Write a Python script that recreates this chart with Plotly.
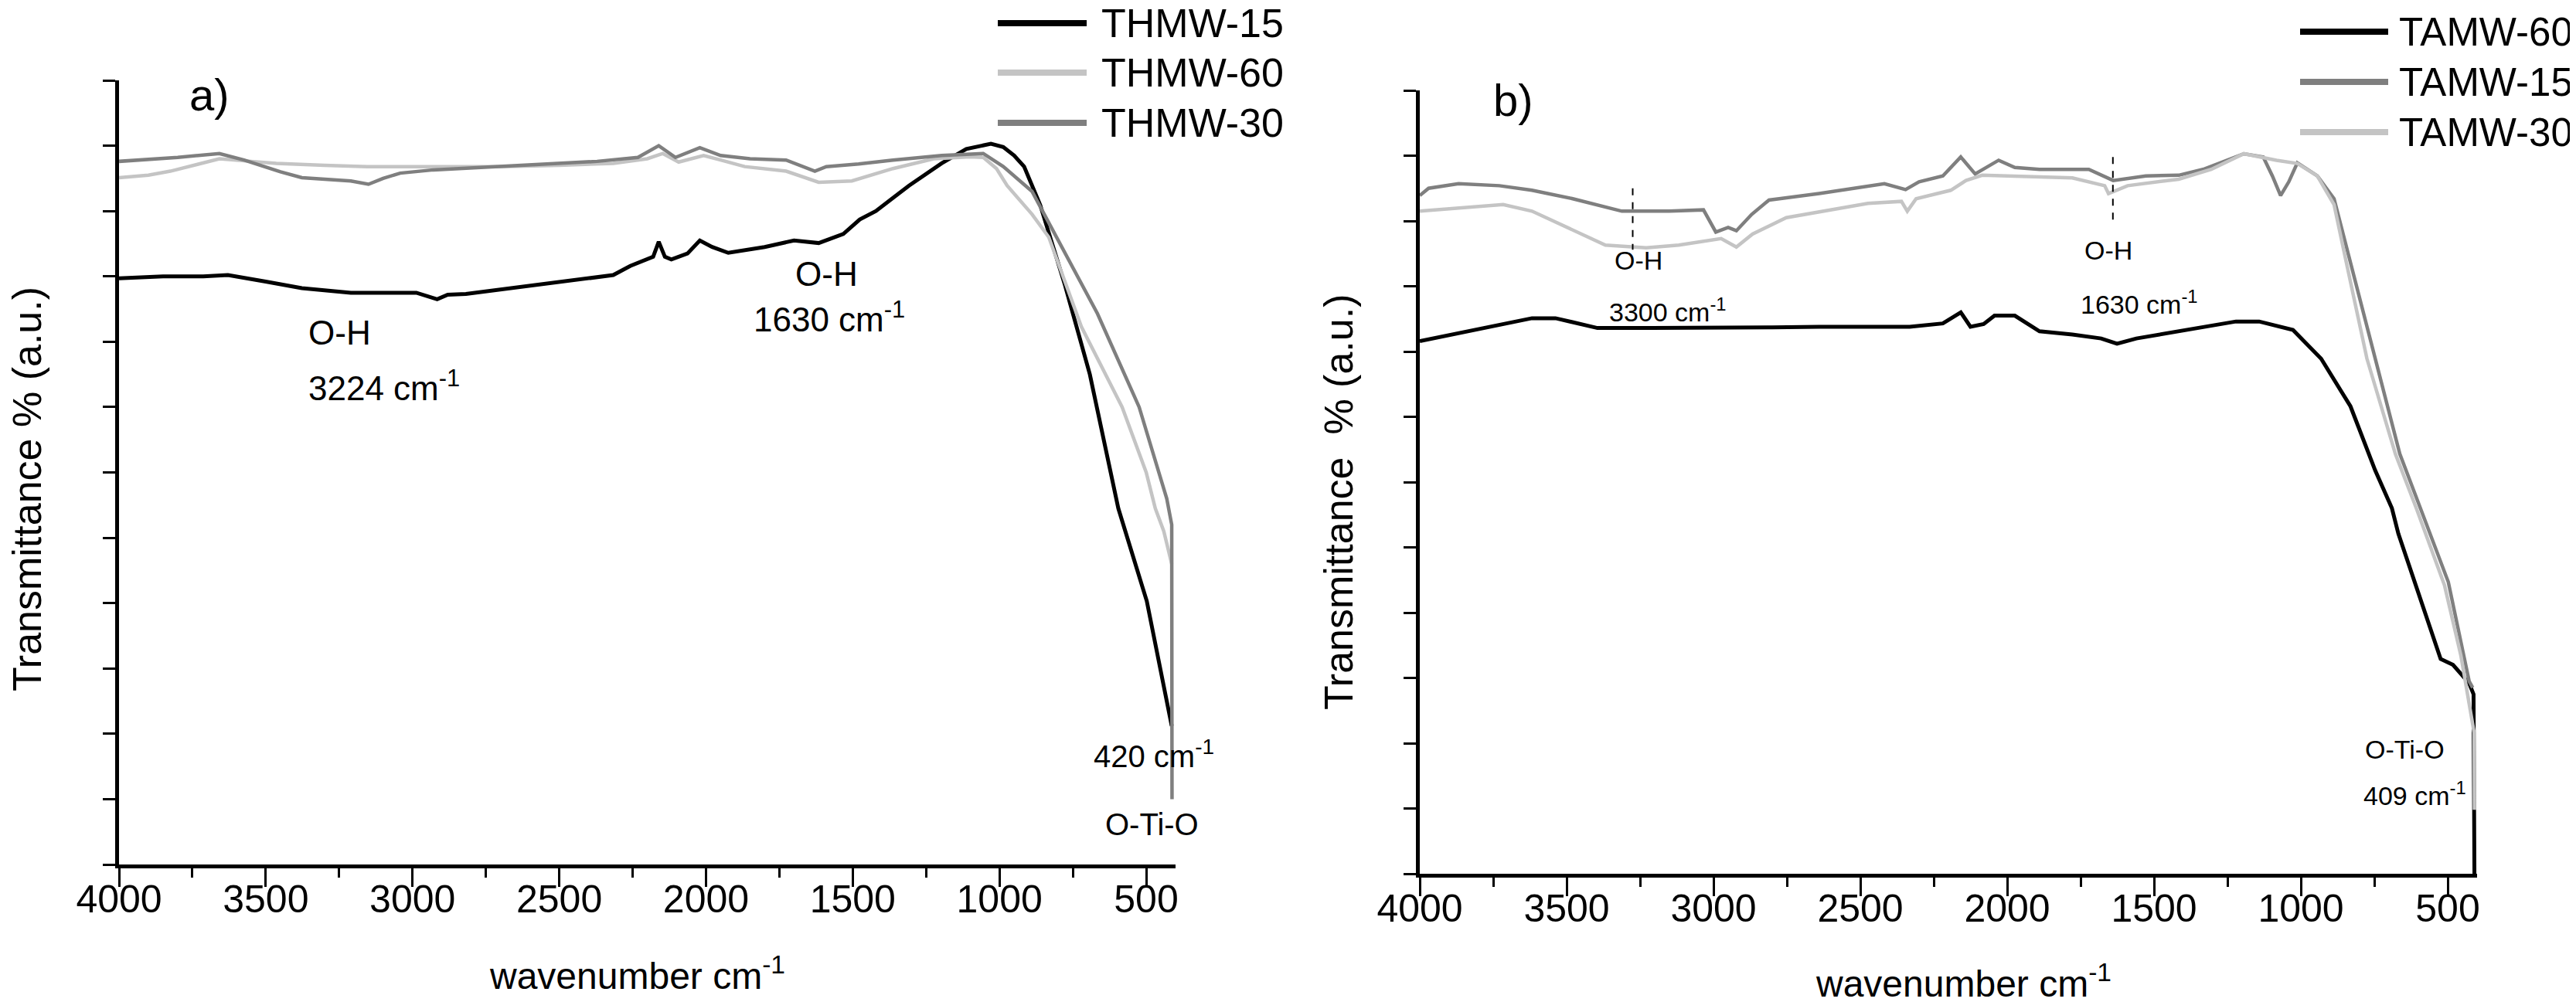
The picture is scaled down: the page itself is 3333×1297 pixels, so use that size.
import plotly.graph_objects as go

W, H = 3333, 1297
FONT = "Liberation Sans, Arial, sans-serif"

# ---------------- panel a) THMW samples ----------------
thmw15_wn = [4000, 3850, 3713, 3629, 3500, 3377, 3210, 3050, 2987, 2916, 2880, 2818, 2700, 2624,
             2450, 2316, 2258, 2180, 2161, 2140, 2118, 2063, 2021, 1979, 1924, 1800, 1700, 1616,
             1532, 1476, 1421, 1308, 1197, 1113, 1029, 987, 950, 916, 861, 820, 777, 692, 650,
             595, 498, 460, 413]
thmw15_t = [8.97, 9.0, 9.0, 9.02, 8.92, 8.82, 8.75, 8.75, 8.75, 8.65, 8.72, 8.73, 8.8, 8.84,
            8.95, 9.02, 9.16, 9.3, 9.53, 9.3, 9.26, 9.35, 9.55, 9.45, 9.36, 9.45, 9.55, 9.51,
            9.65, 9.87, 10.0, 10.39, 10.73, 10.95, 11.03, 10.98, 10.85, 10.68, 10.09, 9.5, 8.87, 7.5, 6.6,
            5.45, 4.03, 3.2, 2.12]

thmw60_wn = [4000, 3900, 3825, 3658, 3550, 3464, 3300, 3153, 2900, 2705, 2500, 2316, 2200, 2147,
             2093, 2008, 1950, 1868, 1727, 1616, 1503, 1363, 1224, 1100, 1055, 1010, 974, 889,
             832, 721, 582, 500, 469, 440, 413]
thmw60_t = [10.51, 10.55, 10.61, 10.80, 10.76, 10.73, 10.7, 10.68, 10.68, 10.68, 10.7, 10.73, 10.8, 10.88,
            10.75, 10.85, 10.78, 10.68, 10.61, 10.44, 10.46, 10.65, 10.80, 10.83, 10.82, 10.65, 10.39, 9.95,
            9.6, 8.23, 7.0, 6.0, 5.45, 5.1, 4.6]

thmw30_wn = [4000, 3800, 3658, 3574, 3450, 3377, 3210, 3150, 3100, 3042, 2929, 2705, 2500, 2371,
             2232, 2161, 2104, 2060, 2021, 1950, 1850, 1727, 1629, 1590, 1480, 1363, 1197, 1055,
             987, 889, 818, 666, 524, 470, 430, 413, 412]
thmw30_t = [10.76, 10.82, 10.88, 10.78, 10.6, 10.51, 10.46, 10.41, 10.5, 10.58, 10.63, 10.68, 10.72, 10.76,
            10.82, 11.0, 10.82, 10.9, 10.97, 10.85, 10.8, 10.78, 10.61, 10.68, 10.72, 10.78, 10.85, 10.88,
            10.68, 10.3, 9.7, 8.43, 7.0, 6.2, 5.6, 5.2, 1.0]

# ---------------- panel b) TAMW samples ----------------
tamw60_wn = [4000, 3868, 3750, 3618, 3538, 3460, 3395, 3210, 2974, 2800, 2640, 2332, 2219, 2158,
             2125, 2080, 2043, 1974, 1890, 1778, 1680, 1626, 1560, 1361, 1221, 1142, 1027, 931,
             831, 747, 690, 668, 524, 482, 427, 412, 409]
tamw60_t = [8.16, 8.28, 8.4, 8.51, 8.51, 8.42, 8.36, 8.36, 8.36, 8.37, 8.38, 8.38, 8.43, 8.6,
            8.38, 8.42, 8.55, 8.55, 8.31, 8.26, 8.2, 8.12, 8.2, 8.36, 8.46, 8.46, 8.33, 7.89,
            7.16, 6.18, 5.6, 5.21, 3.29, 3.2, 2.92, 2.75, 0.0]

tamw15_wn = [4000, 3970, 3868, 3729, 3618, 3479, 3312, 3150, 3034, 2992, 2950, 2922, 2870, 2811,
             2640, 2418, 2346, 2300, 2219, 2158, 2109, 2029, 1974, 1890, 1722, 1639, 1528, 1416,
             1333, 1194, 1128, 1097, 1069, 1041, 1012, 944, 887, 831, 747, 663, 593, 498, 427, 415]
tamw15_t = [10.39, 10.5, 10.57, 10.54, 10.47, 10.34, 10.15, 10.15, 10.17, 9.83, 9.9, 9.85, 10.1, 10.32,
            10.42, 10.57, 10.48, 10.6, 10.69, 10.98, 10.72, 10.93, 10.82, 10.79, 10.79, 10.62, 10.69, 10.7,
            10.79, 11.03, 10.98, 10.69, 10.39, 10.6, 10.89, 10.69, 10.34, 9.36, 7.89, 6.43, 5.6, 4.47, 2.95, 2.85]

tamw30_wn = [4000, 3868, 3716, 3618, 3479, 3368, 3229, 3118, 2974, 2922, 2867, 2752, 2474, 2360,
             2340, 2310, 2192, 2140, 2085, 1974, 1778, 1668, 1655, 1590, 1416, 1305, 1194, 1083,
             1012, 944, 887, 845, 775, 678, 607, 511, 455, 410, 409]
tamw30_t = [10.15, 10.2, 10.25, 10.15, 9.86, 9.63, 9.59, 9.63, 9.73, 9.6, 9.8, 10.05, 10.27, 10.3,
            10.15, 10.34, 10.47, 10.62, 10.7, 10.69, 10.66, 10.54, 10.42, 10.54, 10.64, 10.79, 11.03, 10.93,
            10.88, 10.69, 10.25, 9.36, 7.89, 6.43, 5.6, 4.42, 3.34, 2.16, 0.98]

# dashed markers for O-H bands in panel b
dash_wn = [3275, 3275, None, 1640, 1640]
dash_t = [10.5, 9.56, None, 10.98, 10.0]

BLACK, DARK, LIGHT = "#000000", "#7f7f7f", "#c4c4c4"


def px(x):
    return x / W


def py(y):
    return 1 - y / H


fig = go.Figure()

# panel a (drawing order: black, light, dark on top)
fig.add_trace(go.Scatter(x=thmw15_wn, y=thmw15_t, mode="lines", line=dict(color=BLACK, width=5), xaxis="x", yaxis="y"))
fig.add_trace(go.Scatter(x=thmw60_wn, y=thmw60_t, mode="lines", line=dict(color=LIGHT, width=4.5), xaxis="x", yaxis="y"))
fig.add_trace(go.Scatter(x=thmw30_wn, y=thmw30_t, mode="lines", line=dict(color=DARK, width=4.5), xaxis="x", yaxis="y"))

# panel b
fig.add_trace(go.Scatter(x=tamw60_wn, y=tamw60_t, mode="lines", line=dict(color=BLACK, width=5), xaxis="x2", yaxis="y2"))
fig.add_trace(go.Scatter(x=tamw15_wn, y=tamw15_t, mode="lines", line=dict(color=DARK, width=4.5), xaxis="x2", yaxis="y2"))
fig.add_trace(go.Scatter(x=tamw30_wn, y=tamw30_t, mode="lines", line=dict(color=LIGHT, width=4.5), xaxis="x2", yaxis="y2"))
fig.add_trace(go.Scatter(x=dash_wn, y=dash_t, mode="lines", line=dict(color=BLACK, width=2, dash="dash"),
                         xaxis="x2", yaxis="y2", connectgaps=False))

xcommon = dict(range=[4000, 400], tick0=0, dtick=500, ticks="outside", ticklen=24, tickwidth=3,
               tickcolor="black", showline=True, linewidth=5, linecolor="black", showgrid=False,
               zeroline=False, automargin=False, ticklabelstandoff=-27,
               tickfont=dict(family=FONT, size=50, color="black"),
               minor=dict(ticks="outside", ticklen=12, tickwidth=3, tickcolor="black", dtick=250,
                          tick0=0, showgrid=False))
ycommon = dict(range=[0, 12], tick0=0, dtick=1, ticks="outside", ticklen=16, tickwidth=3,
               tickcolor="black", showticklabels=False, showline=True, linewidth=5,
               linecolor="black", showgrid=False, zeroline=False, automargin=False)

fig.update_layout(
    width=W, height=H,
    margin=dict(l=0, r=0, t=0, b=0, pad=0, autoexpand=False),
    paper_bgcolor="white", plot_bgcolor="white",
    showlegend=False,
    font=dict(family=FONT, color="black"),
    xaxis=dict(domain=[px(146), px(1513)], anchor="y", **xcommon),
    yaxis=dict(domain=[py(1111), py(96)], anchor="x", **ycommon),
    xaxis2=dict(domain=[px(1829), px(3197)], anchor="y2", **xcommon),
    yaxis2=dict(domain=[py(1123), py(109)], anchor="x2", **ycommon),
)

ann = []


def txt(text, x, y, size, xref="paper", yref="paper", xanchor="center", yanchor="middle", angle=0):
    ann.append(dict(text=text, x=x, y=y, xref=xref, yref=yref, xanchor=xanchor, yanchor=yanchor,
                    showarrow=False, textangle=angle, font=dict(family=FONT, size=size, color="black")))


# axis titles
txt("wavenumber cm<sup>-1</sup>", px(816), py(1252), 48)
txt("wavenumber cm<sup>-1</sup>", px(2532), py(1262), 48)
txt("Transmittance % (a.u.)", px(27), py(625), 52, angle=-90)
txt("Transmittance  % (a.u.)", px(1724), py(642), 52, angle=-90)

# panel a labels
txt("a)", 3692, 11.78, 58, "x", "y")
txt("O-H", 3360, 8.14, 44, "x", "y", xanchor="left")
txt("3224 cm<sup>-1</sup>", 3360, 7.33, 44, "x", "y", xanchor="left")
txt("O-H", 1588, 9.04, 44, "x", "y")
txt("1630 cm<sup>-1</sup>", 1580, 8.38, 44, "x", "y")
txt("420 cm<sup>-1</sup>", 474, 1.69, 40, "x", "y")
txt("O-Ti-O", 481, 0.62, 40, "x", "y")

# panel b labels
txt("b)", 3682, 11.85, 58, "x2", "y2")
txt("O-H", 3255, 9.4, 34, "x2", "y2")
txt("3300 cm<sup>-1</sup>", 3155, 8.63, 34, "x2", "y2")
txt("O-H", 1655, 9.55, 34, "x2", "y2")
txt("1630 cm<sup>-1</sup>", 1550, 8.75, 34, "x2", "y2")
txt("O-Ti-O", 647, 1.9, 34, "x2", "y2")
txt("409 cm<sup>-1</sup>", 611, 1.22, 34, "x2", "y2")

# hand-made legends (long thick line samples like the original)
shapes = []
leg_a = [("THMW-15", BLACK, 22), ("THMW-60", LIGHT, 86), ("THMW-30", DARK, 151)]
leg_b = [("TAMW-60", BLACK, 33), ("TAMW-15", DARK, 98), ("TAMW-30", LIGHT, 163)]
for items, x0, x1, xt, fs in [(leg_a, 1283, 1398, 1415, 52), (leg_b, 2968, 3082, 3094, 51)]:
    for name, col, yy in items:
        shapes.append(dict(type="line", xref="paper", yref="paper", x0=px(x0), x1=px(x1),
                           y0=py(yy), y1=py(yy), line=dict(color=col, width=8)))
        txt(name, px(xt), py(yy), fs, xanchor="left")

fig.update_layout(annotations=ann, shapes=shapes)

fig.write_html("out.html")
